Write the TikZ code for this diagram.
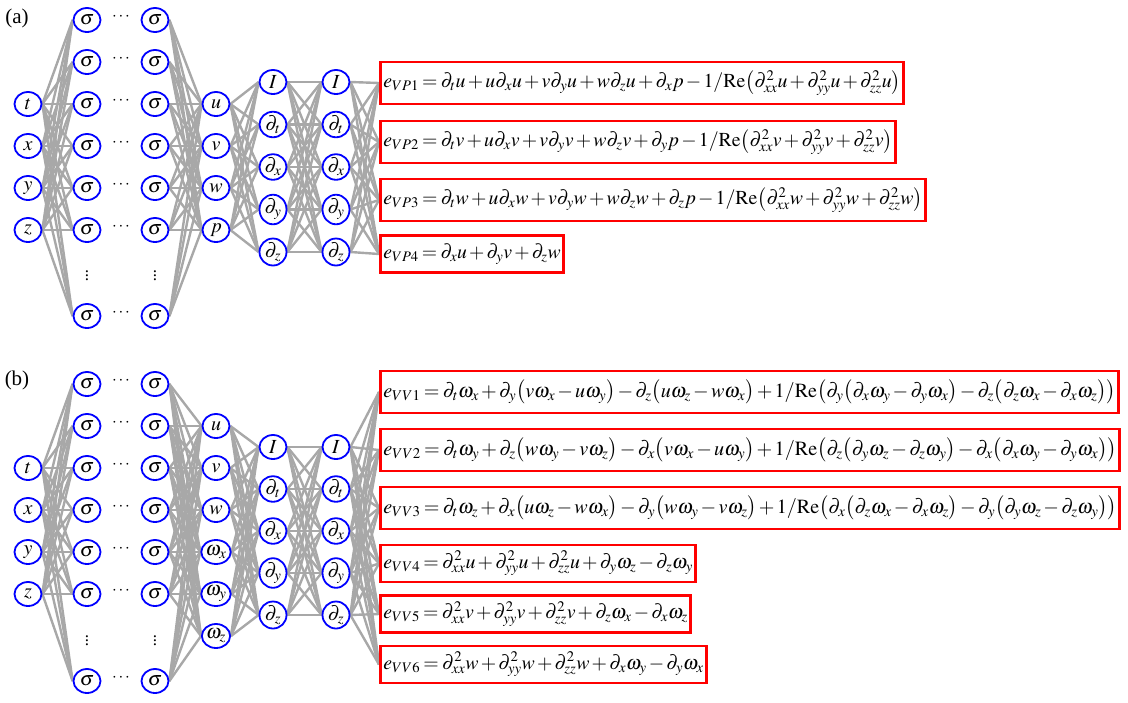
\documentclass[tikz,border=0pt]{standalone}
\usepackage{mathptmx}
\usepackage[no-math]{fontspec}
\setmainfont{Liberation Serif}
\usetikzlibrary{shapes.geometric,backgrounds}
\definecolor{nblue}{RGB}{0,0,255}
\definecolor{lgray}{RGB}{168,168,168}
\newcommand{\invre}{1\mathbf{/}\mathrm{Re}}
\newcommand{\eqn}[2]{\resizebox{\dimexpr#1pt-8.6pt\relax}{!}{$\medmuskip=2mu\thickmuskip=3mu #2$}}
\begin{document}
\begin{tikzpicture}[x=1pt,y=-1pt,
 neuron/.style={ellipse,draw=nblue,line width=1.8pt,fill=white,minimum width=27pt,minimum height=24pt,inner sep=0pt,font=\fontsize{20}{20}\selectfont},
 link/.style={lgray,line width=2.4pt},
 eqbox/.style={draw=red,line width=2.6pt,fill=white,anchor=west,inner xsep=3pt,inner ysep=1pt,font=\fontsize{24}{26}\selectfont},
 tall/.style={minimum height=42pt},
 short/.style={minimum height=37pt},
 panel/.style={font=\fontsize{21}{22}\selectfont},
 dotsty/.style={font=\fontsize{17}{18}\selectfont,inner sep=0pt}]
\useasboundingbox (0,0) rectangle (1128,702);
% ---------------- panel (a)
\node[panel] (la) at (17,18) {(a)};
\foreach \y [count=\i] in {20,62,104,146,188,230,316} {
  \node[neuron] (a-h\i) at (87,\y) {$\sigma$};
  \node[neuron] (a-g\i) at (155,\y) {$\sigma$};
  \node[dotsty] (a-c\i) at (121,\y-3) {$\cdots$};
}
\node[dotsty] (a-v1) at (87,273) {$\vdots$};
\node[dotsty] (a-v2) at (155,273) {$\vdots$};
\foreach \y/\l [count=\i] in {104/t,146/x,188/y,230/z}
  \node[neuron] (a-in\i) at (28,\y) {$\l$};
\foreach \y/\l [count=\i] in {104/u,146/v,188/w,230/p}
  \node[neuron] (a-out\i) at (216,\y) {$\l$};
\foreach \l [count=\i] in {I,\partial_t,\partial_x,\partial_y,\partial_z} {
  \node[neuron] (a-d\i) at (273,{82+42.5*(\i-1)}) {$\l$};
  \node[neuron] (a-f\i) at (336,{82+42.5*(\i-1)}) {$\l$};
}
\node[eqbox,tall] (a-e1) at (379,83) {\eqn{526}{e_{VP1}=\partial_t u+u\partial_x u+v\partial_y u+w\partial_z u+\partial_x p-\invre\bigl(\partial^2_{xx}u+\partial^2_{yy}u+\partial^2_{zz}u\bigr)}};
\node[eqbox,tall] (a-e2) at (379,142) {\eqn{518}{e_{VP2}=\partial_t v+u\partial_x v+v\partial_y v+w\partial_z v+\partial_y p-\invre\bigl(\partial^2_{xx}v+\partial^2_{yy}v+\partial^2_{zz}v\bigr)}};
\node[eqbox,tall] (a-e3) at (379,200) {\eqn{548}{e_{VP3}=\partial_t w+u\partial_x w+v\partial_y w+w\partial_z w+\partial_z p-\invre\bigl(\partial^2_{xx}w+\partial^2_{yy}w+\partial^2_{zz}w\bigr)}};
\node[eqbox,short] (a-e4) at (379,254) {\eqn{186}{e_{VP4}=\partial_x u+\partial_y v+\partial_z w}};
\begin{scope}[on background layer]
\foreach \i in {1,...,4} \foreach \j in {1,...,7} \draw[link] (a-in\i.east) -- (a-h\j.west);
\foreach \i in {1,...,7} \foreach \j in {1,...,4} \draw[link] (a-g\i.east) -- (a-out\j.west);
\foreach \i in {1,...,4} \foreach \j in {1,...,5} \draw[link] (a-out\i.east) -- (a-d\j.west);
\foreach \i in {1,...,5} \foreach \j in {1,...,5} \draw[link] (a-d\i.east) -- (a-f\j.west);
\foreach \i in {1,...,5} \foreach \j in {1,...,4} \draw[link] (a-f\i.east) -- (a-e\j.west);
\end{scope}
% ---------------- panel (b)
\node[panel] (lb) at (17,380) {(b)};
\foreach \y [count=\i] in {384,426,468,510,552,594,681} {
  \node[neuron] (b-h\i) at (87,\y) {$\sigma$};
  \node[neuron] (b-g\i) at (155,\y) {$\sigma$};
  \node[dotsty] (b-c\i) at (121,\y-3) {$\cdots$};
}
\node[dotsty] (b-v1) at (87,638) {$\vdots$};
\node[dotsty] (b-v2) at (155,638) {$\vdots$};
\foreach \y/\l [count=\i] in {468/t,510/x,552/y,594/z}
  \node[neuron] (b-in\i) at (28,\y) {$\l$};
\foreach \y/\l [count=\i] in {426/u,468/v,510/w,552/\omega_x,594/\omega_y,636/\omega_z}
  \node[neuron] (b-out\i) at (216,\y) {$\l$};
\foreach \l [count=\i] in {I,\partial_t,\partial_x,\partial_y,\partial_z} {
  \node[neuron] (b-d\i) at (273,{447+42*(\i-1)}) {$\l$};
  \node[neuron] (b-f\i) at (336,{447+42*(\i-1)}) {$\l$};
}
\node[eqbox,tall] (b-e1) at (379,392) {\eqn{741}{e_{VV1}=\partial_t\omega_x+\partial_y\bigl(v\omega_x-u\omega_y\bigr)-\partial_z\bigl(u\omega_z-w\omega_x\bigr)+\invre\bigl(\partial_y\bigl(\partial_x\omega_y-\partial_y\omega_x\bigr)-\partial_z\bigl(\partial_z\omega_x-\partial_x\omega_z\bigr)\bigr)}};
\node[eqbox,tall] (b-e2) at (379,450) {\eqn{742}{e_{VV2}=\partial_t\omega_y+\partial_z\bigl(w\omega_y-v\omega_z\bigr)-\partial_x\bigl(v\omega_x-u\omega_y\bigr)+\invre\bigl(\partial_z\bigl(\partial_y\omega_z-\partial_z\omega_y\bigr)-\partial_x\bigl(\partial_x\omega_y-\partial_y\omega_x\bigr)\bigr)}};
\node[eqbox,tall] (b-e3) at (379,508) {\eqn{742}{e_{VV3}=\partial_t\omega_z+\partial_x\bigl(u\omega_z-w\omega_x\bigr)-\partial_y\bigl(w\omega_y-v\omega_z\bigr)+\invre\bigl(\partial_x\bigl(\partial_z\omega_x-\partial_x\omega_z\bigr)-\partial_y\bigl(\partial_y\omega_z-\partial_z\omega_y\bigr)\bigr)}};
\node[eqbox,short] (b-e4) at (379,563.5) {\eqn{318}{e_{VV4}=\partial^2_{xx}u+\partial^2_{yy}u+\partial^2_{zz}u+\partial_y\omega_z-\partial_z\omega_y}};
\node[eqbox,short] (b-e5) at (379,614) {\eqn{313}{e_{VV5}=\partial^2_{xx}v+\partial^2_{yy}v+\partial^2_{zz}v+\partial_z\omega_x-\partial_x\omega_z}};
\node[eqbox,short] (b-e6) at (379,664.5) {\eqn{329}{e_{VV6}=\partial^2_{xx}w+\partial^2_{yy}w+\partial^2_{zz}w+\partial_x\omega_y-\partial_y\omega_x}};
\begin{scope}[on background layer]
\foreach \i in {1,...,4} \foreach \j in {1,...,7} \draw[link] (b-in\i.east) -- (b-h\j.west);
\foreach \i in {1,...,7} \foreach \j in {1,...,6} \draw[link] (b-g\i.east) -- (b-out\j.west);
\foreach \i in {1,...,6} \foreach \j in {1,...,5} \draw[link] (b-out\i.east) -- (b-d\j.west);
\foreach \i in {1,...,5} \foreach \j in {1,...,5} \draw[link] (b-d\i.east) -- (b-f\j.west);
\foreach \i in {1,...,5} \foreach \j in {1,...,6} \draw[link] (b-f\i.east) -- (b-e\j.west);
\end{scope}
\end{tikzpicture}
\end{document}
